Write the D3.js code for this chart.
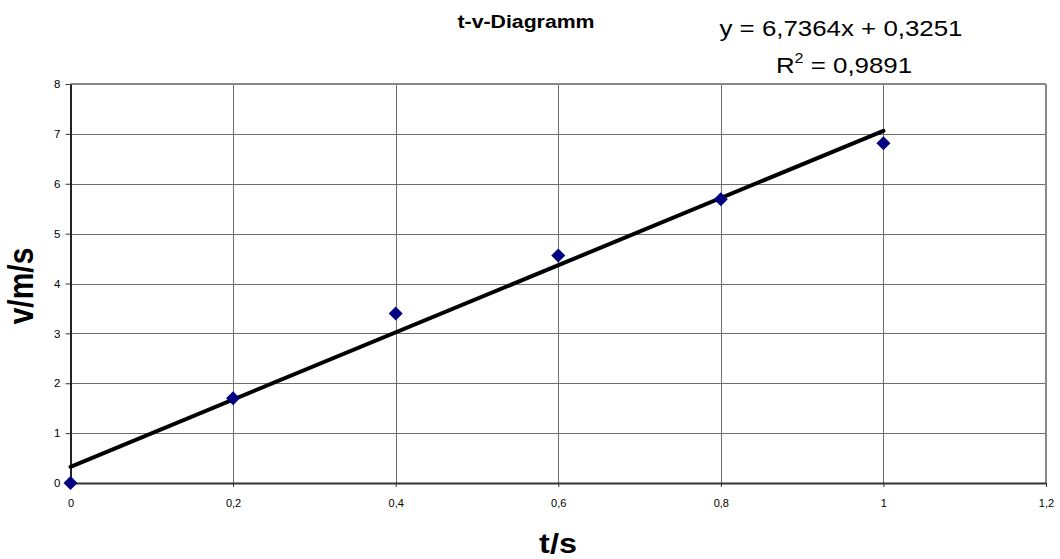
<!DOCTYPE html>
<html><head><meta charset="utf-8">
<script src="https://cdn.jsdelivr.net/npm/d3@7"></script>
<style>body{margin:0;background:#fff}svg{display:block;font-family:"Liberation Sans",Arial,sans-serif}</style>
</head><body><svg id="c" width="1060" height="559"></svg>
<script>
const tValues = [0, 0.2, 0.4, 0.6, 0.8, 1.0];
const vValues = [0, 1.7, 3.4, 4.56, 5.69, 6.81];
const xTicks = [0, 0.2, 0.4, 0.6, 0.8, 1.0, 1.2];
const yTicks = [0, 1, 2, 3, 4, 5, 6, 7, 8];
const slope = 6.7364, intercept = 0.3251;
const titleText = "t-v-Diagramm";
const eqText = "y = 6,7364x + 0,3251";

const svg = d3.select("#c");
const x = d3.scaleLinear().domain([0, 1.2]).range([70.5, 1046]);
const y = d3.scaleLinear().domain([0, 8]).range([483, 84]);
const fmt = d => String(d).replace(".", ",");
const SX = 1.15;

// grid
svg.append("g").selectAll("line").data(yTicks.slice(1)).join("line")
  .attr("x1", x(0)).attr("x2", x(1.2)).attr("y1", d => Math.round(y(d)) + 0.5).attr("y2", d => Math.round(y(d)) + 0.5)
  .attr("stroke", "#6e6e6e").attr("stroke-width", 1);
svg.append("g").selectAll("line").data(xTicks.slice(1)).join("line")
  .attr("y1", y(0)).attr("y2", y(8)).attr("x1", d => Math.round(x(d)) + 0.5).attr("x2", d => Math.round(x(d)) + 0.5)
  .attr("stroke", "#6e6e6e").attr("stroke-width", 1);
// frame top/right
svg.append("line").attr("x1", x(0)).attr("x2", x(1.2)).attr("y1", y(8)).attr("y2", y(8)).attr("stroke", "#888").attr("stroke-width", 2);
svg.append("line").attr("x1", x(1.2)).attr("x2", x(1.2)).attr("y1", y(0)).attr("y2", y(8)).attr("stroke", "#888").attr("stroke-width", 2);

// axes
const xAxis = d3.axisBottom(x).tickValues(xTicks).tickFormat(fmt).tickSizeInner(4).tickSizeOuter(0).tickPadding(12);
const gx = svg.append("g").attr("transform", `translate(0,${y(0)})`).call(xAxis);
gx.select(".domain").attr("stroke", "#333").attr("stroke-width", 2);
gx.selectAll(".tick line").attr("stroke", "#333");
gx.selectAll("text").attr("font-size", 11).attr("fill", "#000").attr("font-family", "Liberation Sans, Arial, sans-serif");

const yAxis = d3.axisLeft(y).tickValues(yTicks).tickFormat(fmt).tickSizeInner(5).tickSizeOuter(0).tickPadding(5);
const gy = svg.append("g").attr("transform", `translate(${x(0)},0)`).call(yAxis);
gy.select(".domain").attr("stroke", "#222").attr("stroke-width", 2);
gy.selectAll(".tick line").attr("stroke", "#333");
gy.selectAll("text").attr("font-size", 11.5).attr("fill", "#000").attr("font-family", "Liberation Sans, Arial, sans-serif");

// trend line
svg.append("line")
  .attr("x1", x(0)).attr("y1", y(intercept))
  .attr("x2", x(1)).attr("y2", y(slope + intercept))
  .attr("stroke", "#000").attr("stroke-width", 4).attr("stroke-linecap", "round");

// points
svg.append("g").selectAll("path").data(tValues.map((t, i) => [t, vValues[i]])).join("path")
  .attr("d", d3.symbol().type(d3.symbolDiamond2).size(125))
  .attr("transform", d => `translate(${x(d[0])},${y(d[1])})`)
  .attr("fill", "#000080");

// texts
svg.append("text").attr("transform", `translate(526,28) scale(${SX},1)`).attr("text-anchor", "middle")
  .attr("font-size", 18.5).attr("font-weight", "bold").text(titleText);
svg.append("text").attr("transform", `translate(841,36) scale(${SX},1)`).attr("text-anchor", "middle")
  .attr("font-size", 22.5).text(eqText);
const r2 = svg.append("text").attr("transform", `translate(844,72.5) scale(${SX},1)`).attr("text-anchor", "middle").attr("font-size", 22.5);
r2.append("tspan").text("R");
r2.append("tspan").attr("dy", -10).attr("font-size", 14).text("2");
r2.append("tspan").attr("dy", 10).text(" = 0,9891");

svg.append("text").attr("transform", `translate(33,286) scale(${SX},1) rotate(-90)`).attr("text-anchor", "middle")
  .attr("font-size", 30).attr("font-weight", "bold").text("v/m/s");
svg.append("text").attr("transform", `translate(558,553) scale(1.2,1)`).attr("text-anchor", "middle")
  .attr("font-size", 27).attr("font-weight", "bold").text("t/s");
</script></body></html>
